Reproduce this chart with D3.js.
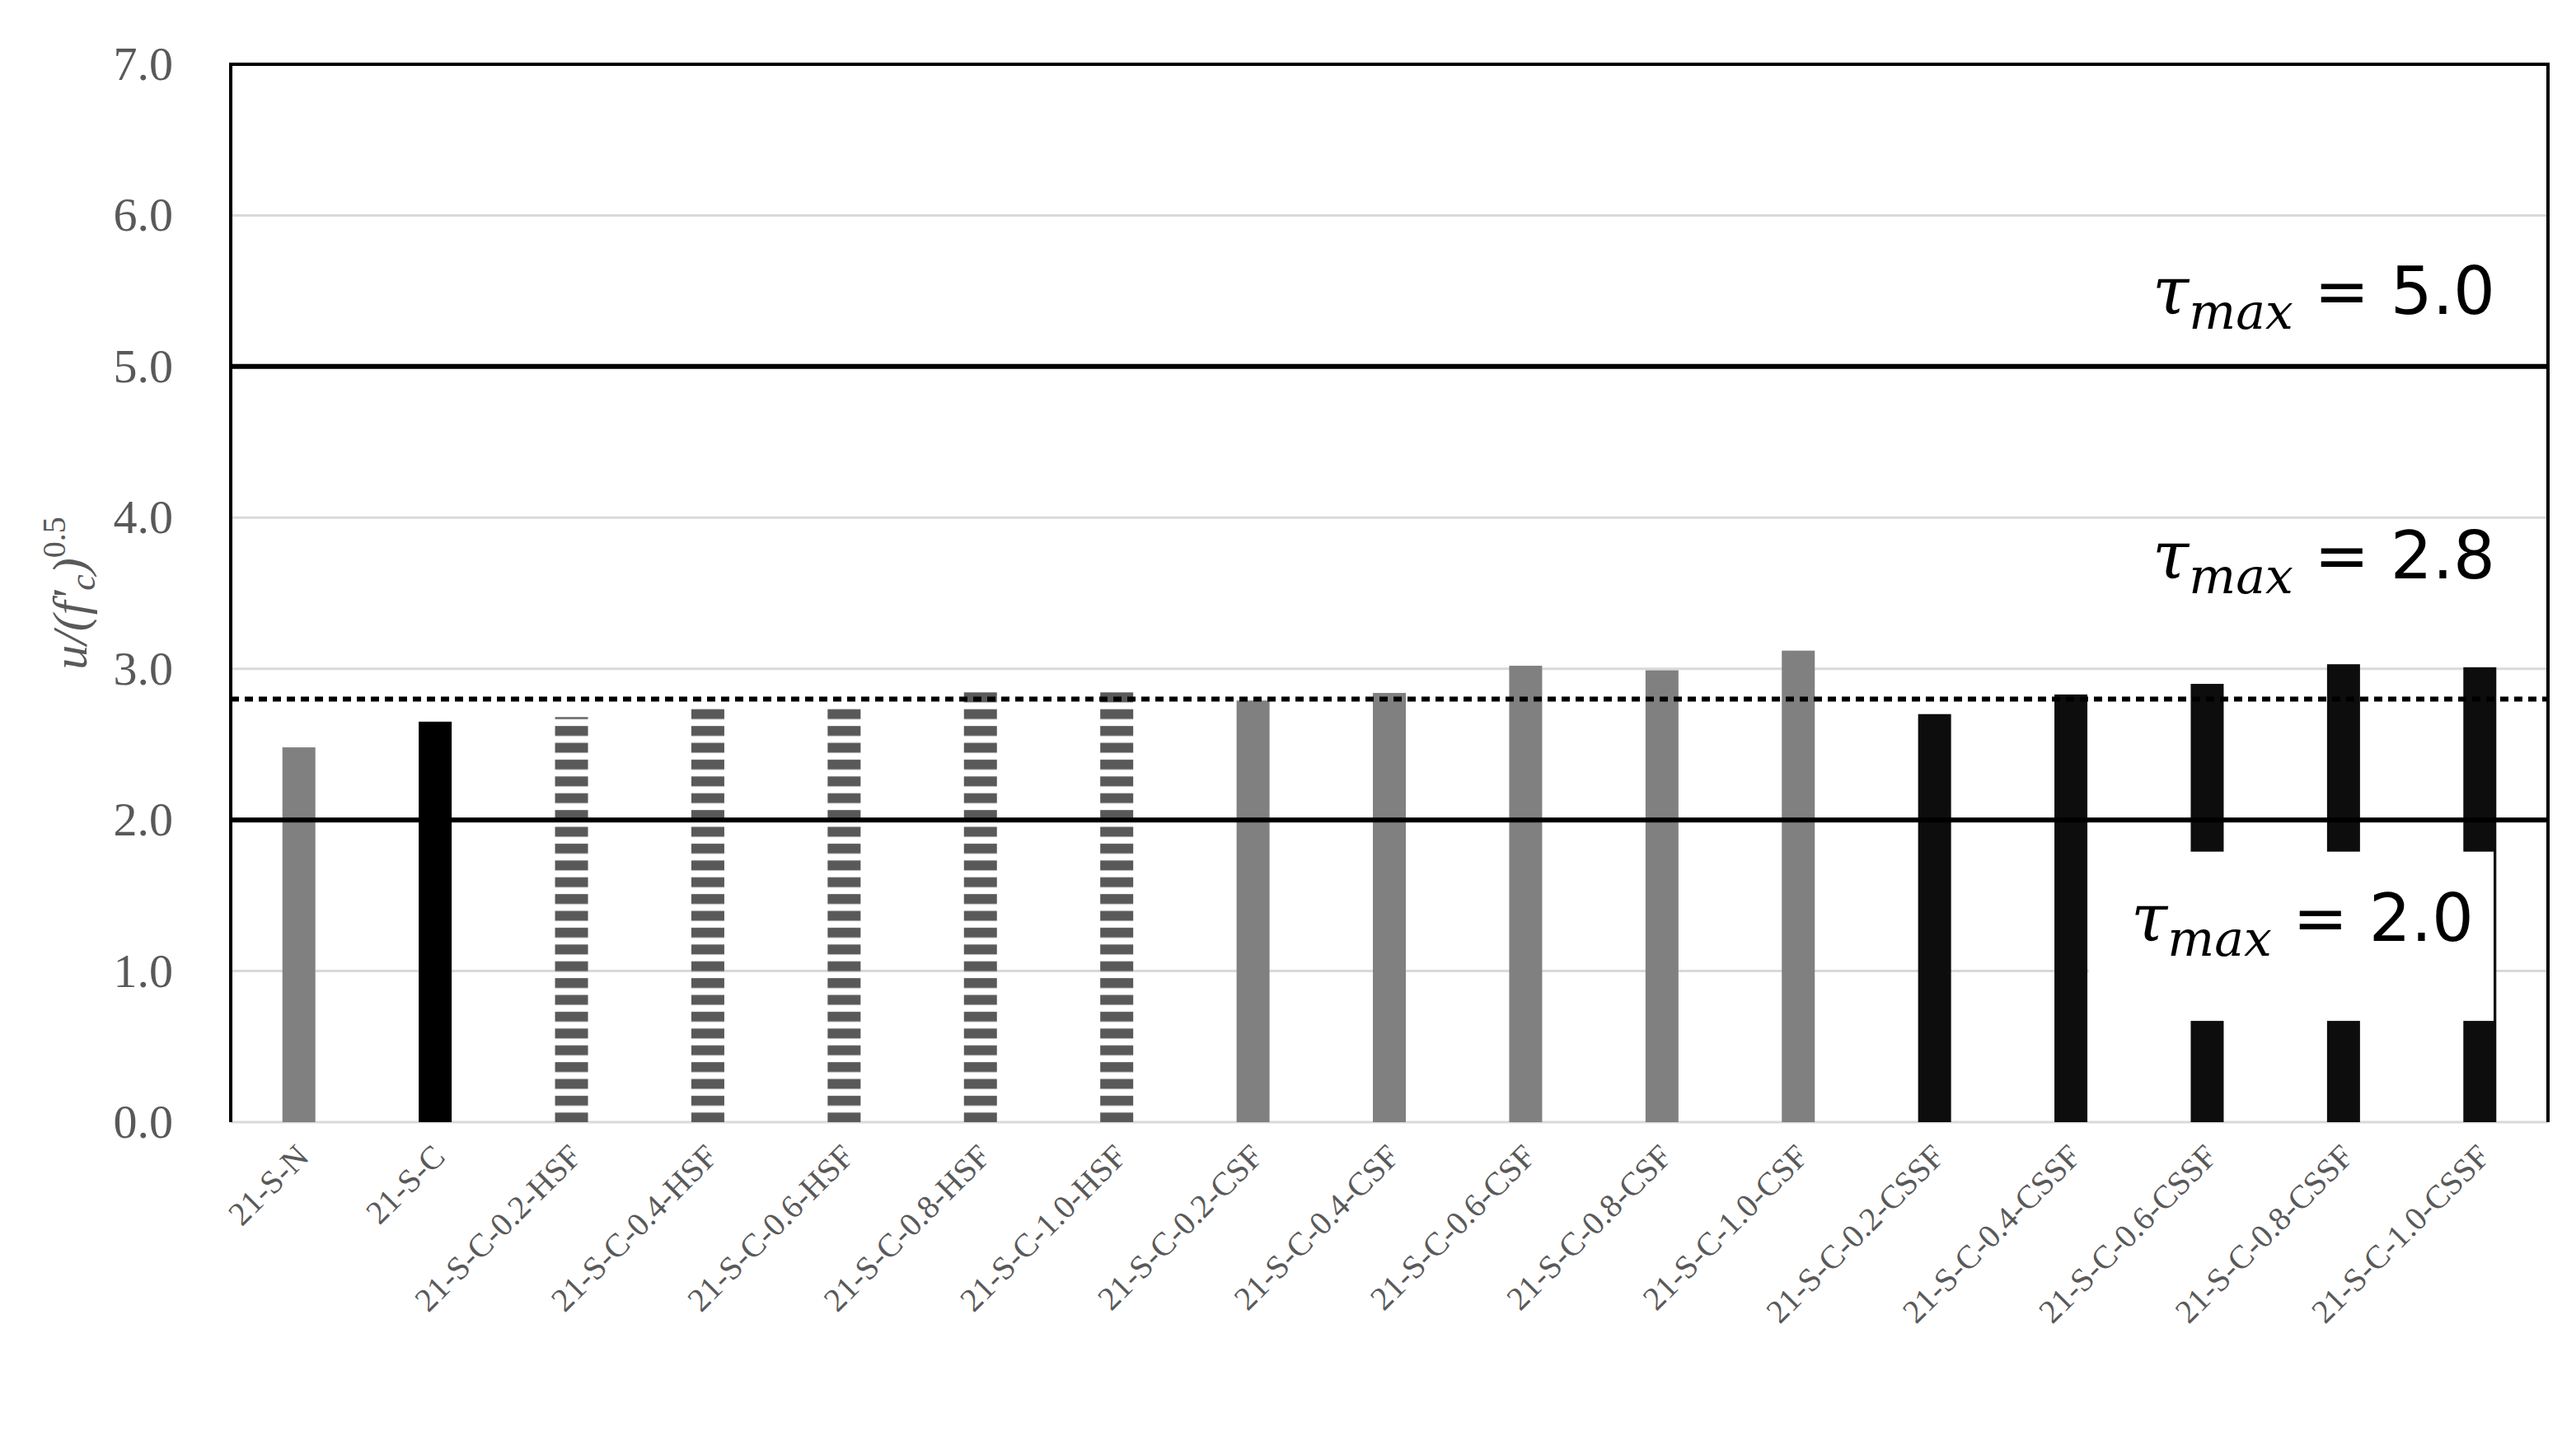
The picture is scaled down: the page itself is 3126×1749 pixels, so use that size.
<!DOCTYPE html>
<meta charset="utf-8">
<style>
body { margin: 0; background: #fff; }
.tick text { font-family: "Liberation Serif", "DejaVu Serif", serif; fill: #595959; }
.lbl { font-family: "DejaVu Serif", serif; fill: #000; }
</style>
<svg width="3126" height="1749"></svg>
<script src="https://cdn.jsdelivr.net/npm/d3@7"></script>
<script>
var categories = ["21-S-N","21-S-C","21-S-C-0.2-HSF","21-S-C-0.4-HSF","21-S-C-0.6-HSF","21-S-C-0.8-HSF","21-S-C-1.0-HSF",
  "21-S-C-0.2-CSF","21-S-C-0.4-CSF","21-S-C-0.6-CSF","21-S-C-0.8-CSF","21-S-C-1.0-CSF",
  "21-S-C-0.2-CSSF","21-S-C-0.4-CSSF","21-S-C-0.6-CSSF","21-S-C-0.8-CSSF","21-S-C-1.0-CSSF"];
var values = [2.48,2.65,2.68,2.74,2.76,2.86,2.86,2.79,2.84,3.02,2.99,3.12,2.70,2.83,2.90,3.03,3.01];
var groups = ["gray","black","hatch","hatch","hatch","hatch","hatch","gray","gray","gray","gray","gray","dark","dark","dark","dark","dark"];
var yTicks = [0,1,2,3,4,5,6,7];
var refLines = [{v:5.0, dash:false, label:"5.0", ly:5.35}, {v:2.8, dash:true, label:"2.8", ly:3.6}, {v:2.0, dash:false, label:"2.0", ly:1.2}];

var fills = {gray:"#808080", black:"#000000", hatch:"url(#hatch)", dark:"#0d0d0d"};

var svg = d3.select("svg");
var mLeft = 280, mRight = 3092, mTop = 78, mBottom = 1362;

var defs = svg.append("defs");
var pat = defs.append("pattern").attr("id","hatch").attr("patternUnits","userSpaceOnUse")
  .attr("width", 40).attr("height", 20.4);
pat.append("rect").attr("width",40).attr("height",12).attr("y",4).attr("fill","#595959");

var x = d3.scaleBand().domain(categories).range([mLeft, mRight]).paddingInner(0.5).paddingOuter(0.25);
var y = d3.scaleLinear().domain([0,7]).range([mBottom, mTop]);

// gridlines
svg.append("g").selectAll("line").data(yTicks).enter().append("line")
  .attr("x1", mLeft).attr("x2", mRight).attr("y1", d => y(d)).attr("y2", d => y(d))
  .attr("stroke","#d9d9d9").attr("stroke-width",3);

// bars
var bw = 40;
svg.append("g").selectAll("rect").data(values).enter().append("rect")
  .attr("x", (d,i) => x(categories[i]) + x.bandwidth()/2 - bw/2)
  .attr("width", bw)
  .attr("y", d => y(d))
  .attr("height", d => mBottom - y(d))
  .attr("fill", (d,i) => fills[groups[i]]);

// reference lines
svg.append("g").selectAll("line").data(refLines).enter().append("line")
  .attr("x1", mLeft).attr("x2", mRight).attr("y1", d => y(d.v)).attr("y2", d => y(d.v))
  .attr("stroke","#000").attr("stroke-width",6)
  .attr("stroke-dasharray", d => d.dash ? "10,7" : null);

// white box behind lower label
svg.append("rect").attr("x",2535).attr("width",491).attr("y",y(1.79)).attr("height",y(0.67)-y(1.79)).attr("fill","#fff");

// frame
svg.append("path").attr("d","M"+mLeft+","+mBottom+"V"+mTop+"H"+mRight+"V"+mBottom)
  .attr("fill","none").attr("stroke","#000").attr("stroke-width",4);

// labels
var lx = [3028, 3028, 3002];
refLines.forEach(function(d,i){
  var t = svg.append("text").attr("class","lbl").attr("x", lx[i]).attr("y", y(d.ly))
    .attr("text-anchor","end").style("font-size","80px");
  t.append("tspan").attr("font-style","italic").text("τ");
  t.append("tspan").attr("font-style","italic").attr("dy",18).style("font-size","60px").text("max");
  t.append("tspan").attr("dy",-18).attr("font-family","DejaVu Sans").text(" = " + d.label);
});

// axes
var ya = svg.append("g").attr("transform","translate("+mLeft+",0)")
  .call(d3.axisLeft(y).tickValues(yTicks).tickSize(0).tickPadding(70));
ya.select(".domain").remove();
ya.selectAll("text").style("font-size","58px");

var xa = svg.append("g").attr("transform","translate(0,"+mBottom+")")
  .call(d3.axisBottom(x).tickSize(0));
xa.select(".domain").remove();
xa.selectAll("text").style("font-size","40px")
  .attr("text-anchor","end").attr("dy",0)
  .attr("transform","translate(12,42) rotate(-45)");

// y title
var yt = svg.append("text").attr("transform","translate(105,"+y(3.5)+") rotate(-90)")
  .attr("text-anchor","middle").attr("fill","#595959")
  .style("font-family","Liberation Serif, serif").style("font-size","60px").style("font-style","italic");
yt.append("tspan").text("u/(f");
yt.append("tspan").text("'");
yt.append("tspan").attr("dy",10).style("font-size","44px").text("c");
yt.append("tspan").attr("dy",-10).text(")");
yt.append("tspan").attr("dy",-26).style("font-size","40px").style("font-style","normal").text("0.5");
</script>
